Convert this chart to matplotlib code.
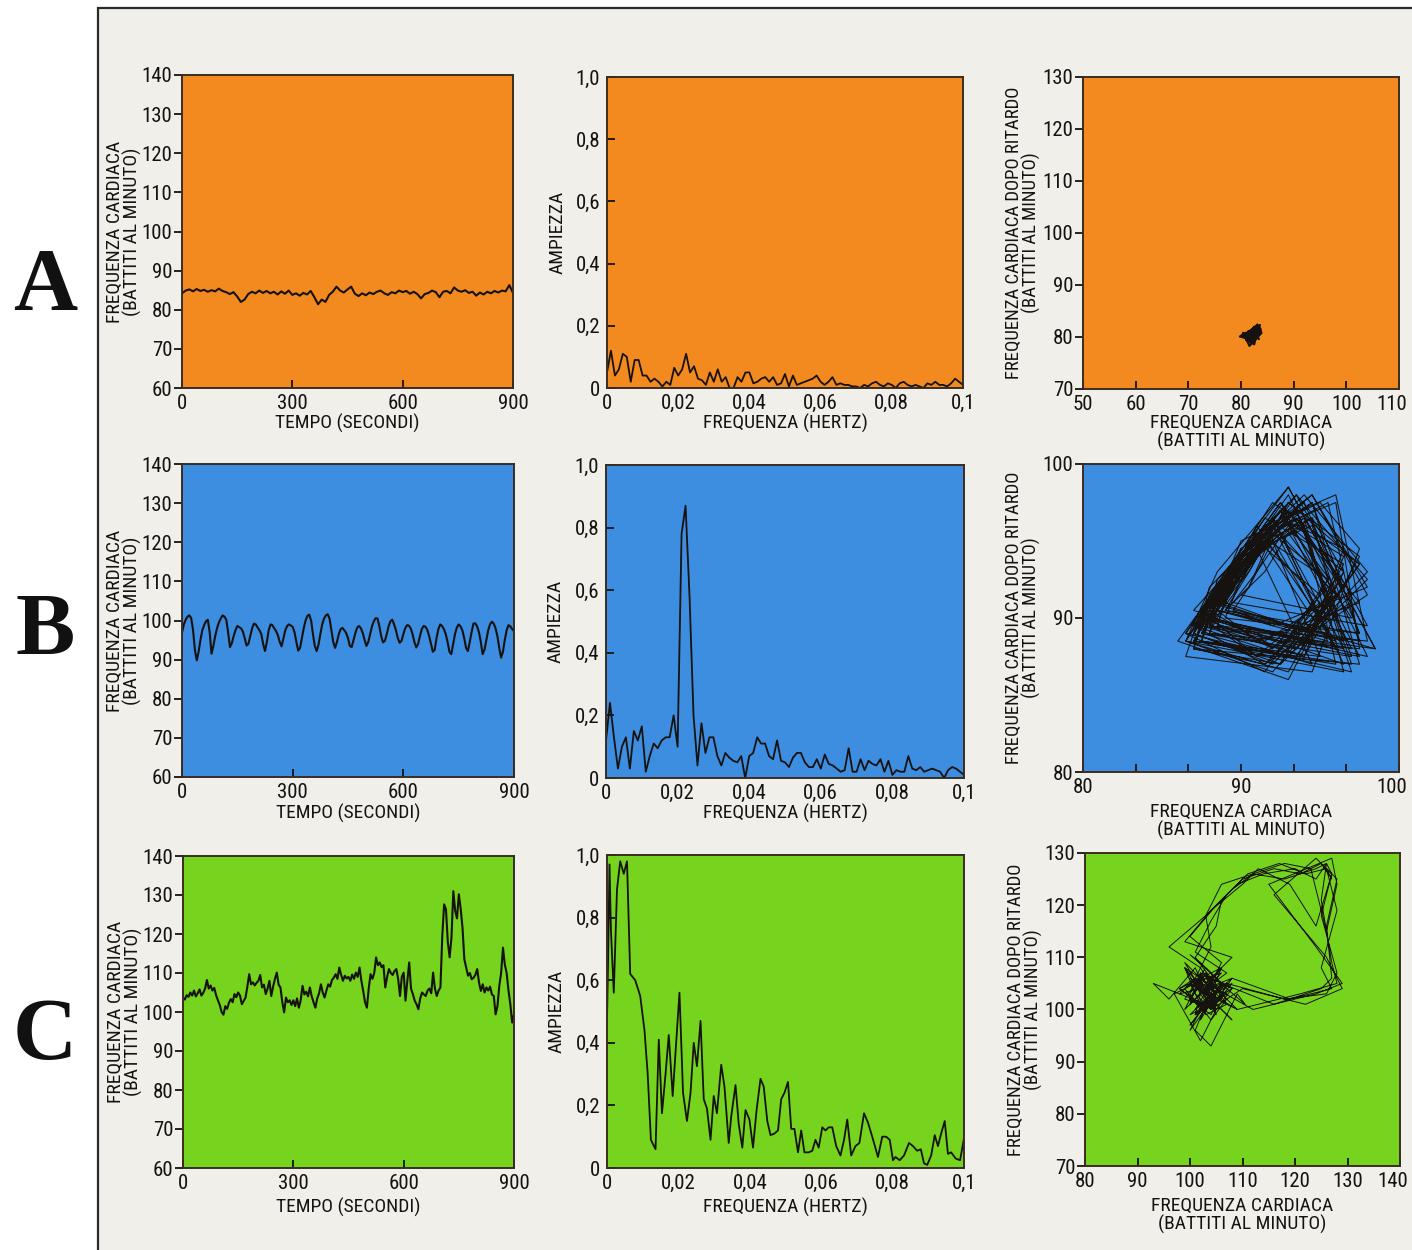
import numpy as np
import matplotlib
matplotlib.use('Agg')
import matplotlib.pyplot as plt
from matplotlib.patches import Rectangle
from matplotlib.transforms import ScaledTranslation

plt.rcParams['font.family'] = ['Roboto Condensed', 'IBM Plex Sans Condensed', 'DejaVu Sans']

# ---------------- DATA ----------------
# A: heart rate, one value every 10 s (0..900 s)
a_freq_cardiaca = [84.2, 84.9, 85.2, 84.7, 85.3, 84.8, 85.1, 84.6, 85.0, 84.7,
                   85.4, 84.8, 84.5, 84.0, 84.5, 83.4, 82.0, 82.6, 84.0, 84.6,
                   84.2, 84.9, 84.3, 84.8, 84.2, 84.6, 83.9, 84.7, 84.1, 84.9,
                   83.8, 84.2, 83.6, 84.3, 83.9, 84.8, 83.2, 81.4, 82.6, 82.0,
                   83.8, 84.6, 85.9, 84.9, 84.4, 85.2, 85.9, 84.1, 83.5, 84.2,
                   83.7, 84.4, 84.0, 84.6, 84.9, 84.2, 83.8, 84.5, 84.2, 84.9,
                   84.5, 84.8, 84.1, 84.6, 84.0, 82.9, 84.0, 84.3, 84.9, 84.5,
                   83.2, 84.6, 84.8, 84.2, 85.7, 84.9, 84.6, 85.0, 84.3, 84.6,
                   83.6, 84.4, 83.9, 84.6, 84.2, 84.8, 84.4, 84.9, 84.7, 86.3,
                   84.3]

# B: heart rate, one value every 5 s
b_freq_cardiaca = [96.9, 99.0, 100.2, 101.0, 101.3, 100.6, 97.5, 92.5, 89.8, 92.0,
                   95.0, 97.5, 98.8, 99.8, 100.2, 97.0, 91.5, 93.5, 96.0, 98.0,
                   99.5, 100.5, 101.3, 101.0, 100.2, 97.0, 93.2, 94.2, 96.0, 97.5,
                   98.6, 98.3, 98.0, 97.2, 95.5, 93.6, 94.0, 96.0, 98.0, 99.2,
                   99.0, 98.2, 97.5, 96.5, 94.0, 92.2, 94.5, 97.5, 99.0, 98.8,
                   98.0, 97.3, 96.2, 94.5, 93.4, 95.5, 97.5, 98.6, 99.0, 98.7,
                   98.4, 97.0, 94.5, 92.3, 93.0, 95.5, 98.0, 100.0, 101.2, 101.5,
                   100.0, 96.5, 93.5, 92.2, 93.8, 96.5, 99.0, 100.5, 101.3, 101.6,
                   100.5, 97.5, 94.5, 93.0, 94.5, 96.5, 97.8, 98.1, 97.5, 96.8,
                   95.5, 93.5, 93.2, 95.0, 96.8, 98.2, 98.6, 98.0, 96.8, 95.0,
                   93.5, 94.5, 96.5, 98.5, 99.8, 100.6, 100.5, 98.5, 96.0, 94.4,
                   94.8, 96.5, 98.5, 99.8, 100.2, 99.0, 97.5, 95.5, 94.3, 94.8,
                   96.5, 98.0, 98.8, 98.7, 98.0, 96.5, 94.5, 93.1, 94.0, 96.0,
                   97.8, 98.6, 98.4, 97.6, 96.0, 94.0, 92.0, 92.5, 95.5, 97.8,
                   99.0, 98.6, 97.8, 96.5, 94.5, 92.0, 91.4, 94.0, 96.5, 98.2,
                   99.0, 98.5, 97.5, 95.5, 93.0, 92.2, 94.5, 97.0, 99.2, 99.3,
                   98.5, 97.0, 94.5, 91.4, 92.5, 95.0, 97.5, 99.0, 99.7, 99.2,
                   98.0, 96.0, 93.0, 90.5, 92.0, 95.0, 97.5, 98.8, 98.5, 97.8,
                   97.3]

# C: heart rate, one value every 5 s
c_freq_cardiaca = [103.7, 103.2, 104.3, 103.9, 105.0, 104.2, 105.5, 104.0, 104.8, 105.8,
                   104.2, 104.9, 106.0, 108.2, 106.0, 106.8, 105.5, 106.2, 104.3, 103.0,
                   101.8, 100.0, 99.3, 101.5, 100.8, 102.4, 103.3, 102.5, 104.6, 103.8,
                   105.0, 104.2, 102.0, 102.8, 103.7, 106.5, 109.7, 107.1, 107.6, 106.8,
                   107.5, 108.0, 109.5, 106.3, 107.0, 104.6, 106.0, 108.0, 104.1, 106.5,
                   108.5, 110.1, 107.0, 106.3, 102.5, 99.9, 103.7, 102.5, 103.0, 101.8,
                   103.0, 101.5, 103.5, 101.1, 103.0, 106.7, 104.5, 105.2, 104.0, 106.3,
                   104.0, 102.5, 101.1, 103.5, 104.8, 107.1, 105.0, 103.7, 105.5, 107.1,
                   106.5, 108.2, 108.8, 109.7, 108.5, 111.4, 109.5, 108.0, 109.3, 108.6,
                   109.0, 108.0, 109.6, 108.5, 110.1, 109.0, 111.4, 108.0, 105.4, 102.5,
                   101.1, 106.0, 109.7, 108.5, 110.0, 114.0, 112.0, 112.7, 111.5, 112.0,
                   106.3, 109.0, 111.0, 110.0, 109.5, 110.5, 111.0, 108.5, 104.1, 109.0,
                   110.1, 102.9, 108.0, 112.7, 106.0, 104.6, 102.9, 102.0, 100.7, 103.5,
                   105.0, 104.5, 104.1, 105.5, 106.0, 104.8, 110.1, 106.0, 104.1, 105.5,
                   106.3, 119.5, 127.6, 126.3, 118.0, 114.0, 119.1, 131.0, 126.0, 124.0,
                   130.2, 126.5, 121.6, 113.5, 111.4, 109.3, 110.0, 108.4, 108.8, 109.5,
                   111.0, 107.5, 105.4, 107.1, 105.0, 106.3, 105.5, 106.5, 104.5, 104.1,
                   99.4, 101.5, 106.7, 110.0, 116.5, 112.2, 110.0, 105.5, 102.0, 97.3,
                   99.4]

# Spectra (amplitude vs frequency)
a_ampiezza = [0.05, 0.12, 0.04, 0.06, 0.11, 0.10, 0.02, 0.09, 0.09, 0.04,
              0.04, 0.02, 0.03, 0.02, 0.005, 0.02, 0.01, 0.065, 0.04, 0.06,
              0.11, 0.05, 0.07, 0.03, 0.025, 0.01, 0.05, 0.02, 0.06, 0.02,
              0.035, 0.0, 0.0, 0.035, 0.02, 0.05, 0.05, 0.015, 0.02, 0.03,
              0.035, 0.02, 0.035, 0.01, 0.015, 0.045, 0.005, 0.04, 0.01, 0.015,
              0.02, 0.025, 0.03, 0.04, 0.02, 0.01, 0.02, 0.035, 0.01, 0.015,
              0.01, 0.01, 0.005, 0.005, 0.0, 0.01, 0.005, 0.015, 0.02, 0.01,
              0.005, 0.015, 0.01, 0.0, 0.015, 0.02, 0.01, 0.005, 0.01, 0.005,
              0.0, 0.015, 0.01, 0.02, 0.01, 0.01, 0.005, 0.015, 0.03, 0.02,
              0.01]

b_ampiezza = [0.12, 0.24, 0.13, 0.03, 0.10, 0.13, 0.03, 0.15, 0.12, 0.165,
              0.02, 0.07, 0.11, 0.095, 0.12, 0.13, 0.13, 0.20, 0.10, 0.78,
              0.87, 0.58, 0.20, 0.04, 0.175, 0.08, 0.13, 0.13, 0.07, 0.04,
              0.08, 0.065, 0.055, 0.05, 0.07, 0.0, 0.07, 0.08, 0.13, 0.11,
              0.11, 0.07, 0.06, 0.12, 0.055, 0.05, 0.035, 0.065, 0.08, 0.08,
              0.05, 0.035, 0.035, 0.06, 0.03, 0.075, 0.045, 0.04, 0.03, 0.02,
              0.025, 0.095, 0.02, 0.02, 0.06, 0.025, 0.055, 0.045, 0.04, 0.06,
              0.02, 0.055, 0.01, 0.025, 0.02, 0.02, 0.07, 0.03, 0.025, 0.035,
              0.02, 0.025, 0.03, 0.025, 0.02, 0.0, 0.025, 0.035, 0.03, 0.02,
              0.01]

c_frequenza = [0.0, 0.0003, 0.0007, 0.0011, 0.0019, 0.0028, 0.0037, 0.0047, 0.0056, 0.0065,
               0.0079, 0.0093, 0.0105, 0.0114, 0.0123, 0.0136, 0.0145, 0.0154, 0.0164, 0.0173,
               0.0184, 0.0192, 0.0203, 0.0213, 0.0224, 0.0234, 0.0243, 0.0252, 0.0262, 0.0271,
               0.0280, 0.0290, 0.0299, 0.0308, 0.0320, 0.0329, 0.0341, 0.0348, 0.0360, 0.0369,
               0.0379, 0.0388, 0.0399, 0.0409, 0.0419, 0.0430, 0.0439, 0.0449, 0.0458, 0.0469,
               0.0479, 0.0488, 0.0497, 0.0507, 0.0516, 0.0525, 0.0535, 0.0544, 0.0553, 0.0565,
               0.0575, 0.0584, 0.0593, 0.0603, 0.0612, 0.0621, 0.0631, 0.0642, 0.0654, 0.0664,
               0.0673, 0.0684, 0.0696, 0.0707, 0.0720, 0.0731, 0.0743, 0.0759, 0.0771, 0.0782,
               0.0792, 0.0801, 0.0808, 0.0820, 0.0832, 0.0846, 0.0857, 0.0869, 0.0879, 0.0888,
               0.0897, 0.0908, 0.0918, 0.0927, 0.0936, 0.0946, 0.0955, 0.0964, 0.0977, 0.0989,
               0.1000]
c_ampiezza = [0.47, 0.66, 0.97, 0.76, 0.56, 0.89, 0.98, 0.94, 0.98, 0.62,
              0.60, 0.55, 0.44, 0.30, 0.09, 0.06, 0.41, 0.175, 0.30, 0.425,
              0.23, 0.37, 0.56, 0.24, 0.15, 0.24, 0.40, 0.325, 0.47, 0.22,
              0.19, 0.09, 0.23, 0.175, 0.33, 0.26, 0.08, 0.165, 0.265, 0.14,
              0.065, 0.185, 0.155, 0.065, 0.185, 0.285, 0.26, 0.15, 0.105, 0.11,
              0.12, 0.22, 0.24, 0.275, 0.125, 0.125, 0.05, 0.12, 0.05, 0.05,
              0.055, 0.09, 0.065, 0.13, 0.12, 0.13, 0.13, 0.07, 0.04, 0.09,
              0.155, 0.04, 0.07, 0.08, 0.175, 0.145, 0.10, 0.035, 0.10, 0.10,
              0.09, 0.025, 0.035, 0.025, 0.04, 0.08, 0.07, 0.055, 0.06, 0.015,
              0.01, 0.04, 0.105, 0.07, 0.11, 0.15, 0.045, 0.05, 0.03, 0.025,
              0.095]

# Phase portraits
a_fase_x = [81.5, 82.8, 81.0, 83.5, 82.2, 80.5, 82.9, 81.8, 83.8, 82.0,
            80.2, 82.5, 83.2, 81.3, 82.7, 79.8, 81.9, 83.6, 82.4, 81.1,
            82.8, 83.9, 81.6, 80.7, 82.3, 83.4, 81.9, 82.6, 80.9, 82.1,
            83.7, 82.9, 81.4, 82.2, 83.1, 81.7, 80.4, 82.5, 83.5, 82.0]
a_fase_y = [80.2, 81.5, 79.4, 81.8, 80.9, 80.0, 82.1, 79.0, 81.2, 80.6,
            80.4, 78.6, 81.9, 80.7, 79.3, 80.1, 81.3, 82.3, 79.8, 80.5,
            81.7, 80.8, 78.3, 80.3, 81.4, 79.6, 80.9, 82.0, 79.9, 78.9,
            81.6, 80.4, 81.1, 79.7, 82.4, 80.2, 80.8, 79.2, 81.0, 80.6]

b_fase_serie = [87.0, 89.0, 92.5, 97.5, 87.5, 89.5, 93.5, 96.5, 92.0,
                86.5, 88.5, 91.5, 96.0, 88.0, 90.0, 94.0, 98.0, 93.0,
                87.5, 89.0, 92.0, 95.5, 97.5, 88.5, 90.5, 93.5, 97.0,
                87.0, 88.5, 91.0, 95.0, 91.5, 86.5, 89.0, 93.0, 98.5,
                88.0, 89.5, 92.5, 96.5, 94.0, 87.5, 90.0, 94.5, 97.5,
                89.0, 90.5, 92.0, 95.5, 92.5, 87.0, 88.0, 91.5, 96.0, 98.0,
                88.5, 89.5, 93.0, 97.0, 91.0, 87.5, 90.5, 94.0, 96.5,
                86.5, 88.5, 92.0, 97.5, 93.5, 88.0, 89.0, 91.0, 94.5,
                87.0, 89.5, 93.5, 98.0, 89.5, 91.0, 93.0, 96.0, 92.0,
                87.5, 88.5, 92.5, 97.0, 88.0, 90.0, 95.0, 97.5, 94.5,
                86.5, 87.5, 90.5, 94.5, 96.5, 88.5, 90.5, 93.5, 98.0, 92.5,
                87.0, 89.0, 92.0, 96.0, 88.0, 89.5, 91.5, 95.0, 91.0,
                87.5, 90.0, 94.0, 97.5, 89.0, 90.0, 92.5, 96.5, 93.0,
                86.5, 88.5, 93.0, 98.5, 88.0, 91.0, 94.5, 96.0, 91.5,
                87.0, 88.0, 91.0, 95.5, 88.5, 90.5, 93.0, 97.5, 94.0,
                87.5, 89.5, 92.5, 96.0, 97.5, 88.0, 89.0, 92.0, 96.5,
                87.0, 90.5, 94.5, 98.0, 92.0, 89.5, 90.5, 92.0, 95.0,
                87.5, 88.5, 91.5, 96.5, 93.5, 88.0, 90.0, 93.5, 97.0,
                86.5, 89.0, 92.5, 97.5, 91.0, 88.5, 90.5, 94.0, 96.0,
                87.0, 88.5, 91.0, 95.5, 92.5, 88.0, 89.5, 93.0, 98.0,
                87.5, 90.0, 92.5, 96.5, 94.5, 89.0, 91.0, 94.5, 97.5,
                87.0, 88.0, 92.0, 96.0, 91.5, 88.5, 89.5, 92.5, 97.0,
                90.0, 91.5, 93.0, 95.5, 92.0, 88.0, 90.5, 93.5, 97.0,
                87.5, 89.0, 91.5, 94.5, 96.5, 93.0, 86.0, 88.5, 92.0, 96.5,
                88.0, 90.0, 94.5, 98.0, 91.5, 87.0, 89.5, 92.5, 95.5,
                89.0, 90.5, 93.0, 97.5, 93.5, 87.5, 88.5, 91.0, 96.0,
                88.5, 91.0, 94.0, 96.5, 92.0, 87.0, 89.0, 93.0, 97.5]

c_fase_serie = [104, 101, 106, 103, 99, 105, 108, 102, 100, 104, 107, 103, 98, 102, 106.5,
                104, 101, 105,
                106, 110, 116, 121, 125, 127, 126, 128, 125, 127, 119, 108, 104,
                102, 106, 100, 103, 107, 105, 99, 101, 104, 108, 103, 100, 105, 102, 96, 103,
                108, 112, 118, 123, 126, 128, 127, 115, 124, 129, 124, 112, 105,
                103, 100, 104, 107, 102, 99, 105, 103, 108, 101, 104, 106, 100,
                105, 109, 114, 120, 124, 126, 127, 125, 128, 126, 118, 107, 103,
                102, 105, 101, 98, 103, 106, 104, 100, 102, 107, 110.5, 109, 104, 101, 103, 93,
                96, 101, 105, 102, 108, 99, 104,
                110, 113, 119, 124, 127, 124, 116, 126, 129, 122, 110, 104,
                101, 104, 100, 106, 103, 99, 102, 105, 109, 104, 102, 100, 103, 107, 101, 104,
                107, 111, 117, 122, 126, 128, 126, 127, 125, 116, 106,
                104, 101, 105, 102, 99, 103, 106, 100, 104, 108, 105, 102, 98, 101, 104, 103,
                106, 112, 118, 124, 126, 125, 127, 128, 121, 109, 105,
                103, 100, 104, 106, 102, 101, 105, 103, 99, 102, 107, 104, 100, 103, 101, 106,
                104, 102, 108, 103, 100, 104, 101, 97, 102, 105, 103, 94, 100, 104]
b_ritardo = 1
c_ritardo = 3

# ---------------- STYLE ----------------
ORANGE = '#f28a1f'
BLUE = '#3d8de0'
GREEN = '#76d41e'
INK = '#161210'
SPINE = '#3a2c22'
W, H = 1412.0, 1250.0

fig = plt.figure(figsize=(14.12, 12.5), dpi=100)
fig.patch.set_facecolor('white')
fig.add_artist(Rectangle((98 / W, -0.01), 1.0, 1 - 8 / H + 0.01, transform=fig.transFigure,
                         facecolor='#f1efea', edgecolor='#2a2a2a', lw=1.6, zorder=0))


def box(l, t, r, b):
    return [l / W, 1 - b / H, (r - l) / W, (b - t) / H]


TICK_FS = 15
LAB_FS = 14


def style(ax, color):
    ax.set_facecolor(color)
    for s in ax.spines.values():
        s.set_color(SPINE)
        s.set_linewidth(1.4)
    ax.tick_params(axis='both', labelsize=TICK_FS, colors=INK, width=1.3, length=6)


def time_panel(ax, vals, color, xlab_off):
    t = np.linspace(0, 900, len(vals))
    ax.plot(t, vals, color=INK, lw=1.5)
    ax.set_xlim(0, 900)
    ax.set_ylim(60, 140)
    style(ax, color)
    ax.set_xticks([0, 300, 600, 900])
    ax.set_yticks(range(60, 141, 10))
    ax.tick_params(axis='x', direction='in', pad=4)
    ax.tick_params(axis='y', direction='out', pad=1)
    ax.set_ylabel('FREQUENZA CARDIACA\n(BATTITI AL MINUTO)', fontsize=LAB_FS,
                  va='center', linespacing=0.95, color=INK)
    ax.yaxis.set_label_coords(-0.175, 0.5)
    ax.set_xlabel('TEMPO (SECONDI)', fontsize=LAB_FS, va='center', color=INK)
    ax.xaxis.set_label_coords(0.5, xlab_off)


def spec_panel(ax, f, amp, color, xlab_off):
    ax.plot(f, amp, color=INK, lw=1.3)
    ax.set_xlim(0, 0.1)
    ax.set_ylim(0, 1.0)
    style(ax, color)
    ax.set_xticks([0, 0.02, 0.04, 0.06, 0.08, 0.1])
    ax.set_xticklabels(['0', '0,02', '0,04', '0,06', '0,08', '0,1'])
    ax.set_yticks([0, 0.2, 0.4, 0.6, 0.8, 1.0])
    ax.set_yticklabels(['0', '0,2', '0,4', '0,6', '0,8', '1,0'])
    ax.tick_params(axis='x', direction='in', length=0, pad=4)
    ax.tick_params(axis='y', direction='in', pad=5)
    ax.set_ylabel('AMPIEZZA', fontsize=LAB_FS, va='center', color=INK)
    ax.yaxis.set_label_coords(-0.14, 0.5)
    ax.set_xlabel('FREQUENZA (HERTZ)', fontsize=LAB_FS, va='center', color=INK)
    ax.xaxis.set_label_coords(0.5, xlab_off)


def phase_panel(ax, x, y, color, xlim, ylim, xt, xtl, yt, ytl, lw, xlab_off):
    ax.plot(x, y, color=INK, lw=lw)
    ax.set_xlim(*xlim)
    ax.set_ylim(*ylim)
    style(ax, color)
    ax.set_xticks(xt)
    ax.set_xticklabels(xtl)
    ax.set_yticks(yt)
    ax.set_yticklabels(ytl)
    ax.tick_params(axis='x', direction='in', pad=4)
    ax.tick_params(axis='y', direction='out', pad=1)
    # keep the last x tick label inside the page
    last = ax.get_xticklabels()[-1]
    last.set_transform(last.get_transform() + ScaledTranslation(-5 / 72, 0, fig.dpi_scale_trans))
    ax.set_ylabel('FREQUENZA CARDIACA DOPO RITARDO\n(BATTITI AL MINUTO)', fontsize=13.5,
                  va='center', linespacing=0.95, color=INK)
    ax.yaxis.set_label_coords(-0.19, 0.5)
    ax.set_xlabel('FREQUENZA CARDIACA\n(BATTITI AL MINUTO)', fontsize=LAB_FS,
                  va='center', linespacing=1.0, color=INK)
    ax.xaxis.set_label_coords(0.5, xlab_off)


# Row A
ax = fig.add_axes(box(182, 75, 513, 388))
time_panel(ax, a_freq_cardiaca, ORANGE, -0.112)
ax = fig.add_axes(box(607, 77, 963, 388))
spec_panel(ax, np.arange(len(a_ampiezza)) / 900.0, a_ampiezza, ORANGE, -0.113)
ax = fig.add_axes(box(1083, 77, 1399, 389))
phase_panel(ax, a_fase_x, a_fase_y, ORANGE, (50, 110), (70, 130),
            list(range(50, 111, 10)), [str(v) for v in range(50, 111, 10)],
            list(range(70, 131, 10)), [str(v) for v in range(70, 131, 10)], 1.6, -0.138)

# Row B
ax = fig.add_axes(box(182, 464, 514, 777))
time_panel(ax, b_freq_cardiaca, BLUE, -0.115)
ax = fig.add_axes(box(606, 465, 964, 778))
spec_panel(ax, np.arange(len(b_ampiezza)) / 900.0, b_ampiezza, BLUE, -0.112)
ax = fig.add_axes(box(1083, 464, 1399, 772))
bs = np.asarray(b_fase_serie)
phase_panel(ax, bs[:-b_ritardo], bs[b_ritardo:], BLUE, (80, 100), (80, 100),
            [80, 80 + 10 / 3, 80 + 20 / 3, 90, 90 + 10 / 3, 90 + 20 / 3, 100],
            ['80', '', '', '90', '', '', '100'],
            [80, 90, 100], ['80', '90', '100'], 0.75, -0.162)

# Row C
ax = fig.add_axes(box(183, 856, 514, 1168))
time_panel(ax, c_freq_cardiaca, GREEN, -0.125)
ax = fig.add_axes(box(607, 855, 964, 1168))
spec_panel(ax, c_frequenza, c_ampiezza, GREEN, -0.125)
ax = fig.add_axes(box(1085, 853, 1400, 1166))
cs = np.asarray(c_fase_serie, dtype=float)
phase_panel(ax, cs[:-c_ritardo], cs[c_ritardo:], GREEN, (80, 140), (70, 130),
            list(range(80, 141, 10)), [str(v) for v in range(80, 141, 10)],
            list(range(70, 131, 10)), [str(v) for v in range(70, 131, 10)], 0.7, -0.157)

# Row letters
for letter, yc in (('A', 287), ('B', 632), ('C', 1037)):
    fig.text(45 / W, 1 - yc / H, letter, fontsize=64, fontweight='bold',
             family=['Liberation Serif', 'DejaVu Serif'], ha='center', va='center', color='#111111')

fig.savefig('out.png', dpi=100, facecolor=fig.get_facecolor())
